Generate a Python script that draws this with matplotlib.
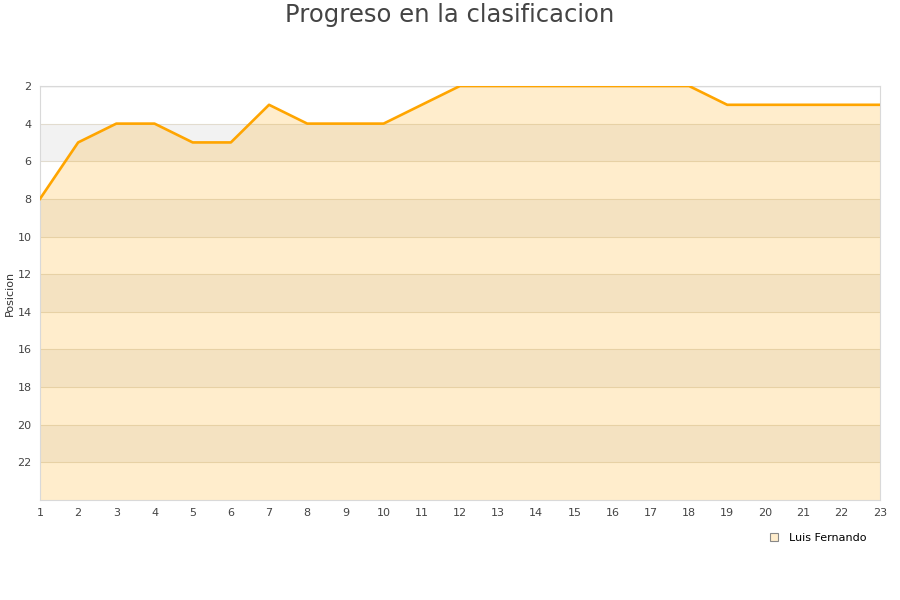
import numpy as np
from matplotlib import pyplot as plt
from matplotlib.lines import Line2D

jornadas = list(range(1, 24))
posicion = [8, 5, 4, 4, 5, 5, 3, 4, 4, 4, 3, 2, 2, 2, 2, 2, 2, 2, 3, 3, 3, 3, 3]
y_ticks = [2, 4, 6, 8, 10, 12, 14, 16, 18, 20, 22]

fig = plt.figure(figsize=(9, 6), dpi=100)
ax = fig.add_axes([0.0444, 0.1667, 0.9333, 0.69])

ax.set_xlim(1, 23)
ax.set_ylim(24, 2)

# alternating background bands
for y0 in range(4, 24, 4):
    ax.axhspan(y0, y0 + 2, color='#f2f2f2', zorder=0, lw=0)

for y in y_ticks:
    ax.axhline(y, color='#e2dccf', lw=0.8, zorder=1)
ax.axhline(2, color='#d9d9d9', lw=1, zorder=1)

ax.fill_between(jornadas, posicion, 24, color='#ffa500', alpha=0.2, lw=0, zorder=2)
ax.plot(jornadas, posicion, color='#ffa500', lw=1.9, zorder=3)

ax.set_xticks(jornadas)
ax.set_yticks(y_ticks)
ax.tick_params(length=0, labelsize=8, colors='#444444', pad=6)
for s in ax.spines.values():
    s.set_color('#d9d9d9')

ax.set_ylabel('Posicion', fontsize=8, color='#333333', labelpad=2)
fig.suptitle('Progreso en la clasificacion', fontsize=17.5, color='#444444', y=0.995)

handle = Line2D([], [], marker='s', ls='', markersize=6,
                markerfacecolor='#ffedcc', markeredgecolor='#888888', markeredgewidth=0.8)
fig.legend([handle], ['Luis Fernando'], loc='center', bbox_to_anchor=(0.905, 0.104),
           frameon=False, fontsize=8, handletextpad=0.4)

fig.savefig('out.png', dpi=100)
